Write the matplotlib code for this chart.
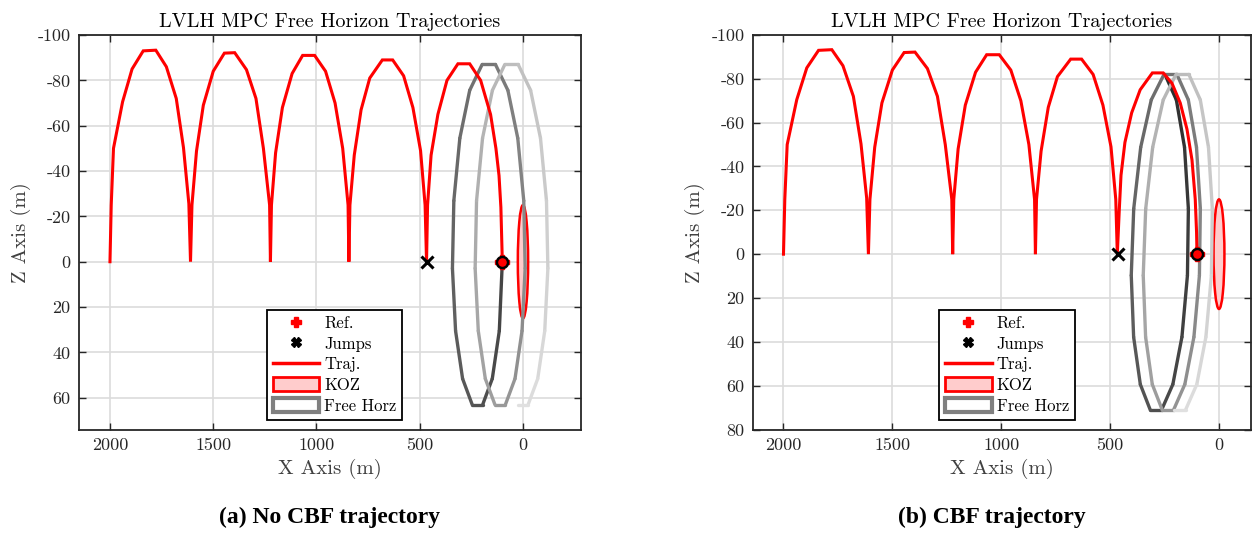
import numpy as np
import matplotlib
matplotlib.use('Agg')
import matplotlib.pyplot as plt
from matplotlib.collections import LineCollection
from matplotlib.patches import Ellipse, Patch
from matplotlib.lines import Line2D

plt.rcParams['font.family'] = ['cmr10', 'DejaVu Serif']
plt.rcParams['axes.unicode_minus'] = False
plt.rcParams['mathtext.fontset'] = 'cm'
plt.rcParams['axes.formatter.use_mathtext'] = True

# ---------------- data ----------------
# first four hops (common to both runs)
hops_x = [2000, 1994, 1983, 1939, 1893, 1839, 1778, 1727, 1679, 1644, 1618, 1610,
          1603, 1581, 1548, 1500, 1446, 1396, 1339, 1293, 1257, 1227, 1223,
          1218, 1198, 1165, 1118, 1067, 1009, 956, 910, 873, 847, 843,
          838, 817, 784, 742, 681, 631, 578, 533, 496, 474, 467]
hops_z = [0, -25, -50, -70.5, -85, -93, -93.3, -86, -72, -50.3, -25.6, 0,
          -25, -48.8, -69, -84, -92, -92.2, -84.7, -72, -50, -25, 0,
          -25, -48, -68, -83, -91, -91, -84, -70, -50, -25, 0,
          -25, -47, -67, -81, -89, -89, -82, -68, -49, -25, 0]

# last hop, no CBF
last_x_a = [467, 462, 445, 412, 368, 315, 258, 205, 157, 131, 116, 107, 100]
last_z_a = [0, -25, -47, -65, -80, -87.3, -87.3, -80, -65, -50, -38, -24, 0]
# last hop, CBF
last_x_b = [466, 458, 450, 432, 401, 362, 306, 256, 216, 178, 147, 124, 109, 103, 101]
last_z_b = [0, -20, -36, -51, -64.5, -75, -82.7, -82.7, -78, -69, -57, -43, -25, -10, 0]

# free-horizon drift, no CBF
free_x_a = [100, 114.6, 148.6, 195, 246, 292.4, 326.4, 341.6,
            334.8, 305.8, 258, 197.8, 133.2, 73, 25.2, -3.8,
            -10.6, 4.6, 38.6, 85, 136, 182.4, 216.4, 231.6,
            224.8, 195.8, 148, 87.8, 23.2, -37, -84.8, -113.8,
            -120.6, -105.4, -71.4, -25, 26]
free_z_a = [0, 30.5, 51.6, 63, 63, 51.6, 30.5, 2.9,
            -26.9, -54.5, -75.6, -87, -87, -75.6, -54.5, -26.9,
            2.9, 30.5, 51.6, 63, 63, 51.6, 30.5, 2.9,
            -26.9, -54.5, -75.6, -87, -87, -75.6, -54.5, -26.9,
            2.9, 30.5, 51.6, 63, 63]
# free-horizon drift, CBF
free_x_b = [248.2, 195.8, 158.3, 140.6,
            144.9, 170.2, 211.9, 263.3, 315.9, 361.3, 392, 402.9,
            391.6, 359.5, 311, 252.6, 193.2, 140.8, 103.3, 85.6,
            89.9, 115.2, 156.9, 208.3, 260.9, 306.3, 337, 347.9,
            336.6, 304.5, 256, 197.6, 138.2, 85.8, 48.3, 30.6,
            34.9, 60.2, 101.9, 153.3, 205.9]
free_z_b = [-82, -70.4, -48.8, -20.7,
            9.7, 37.8, 59.4, 71, 71, 59.4, 37.8, 9.7,
            -20.7, -48.8, -70.4, -82, -82, -70.4, -48.8, -20.7,
            9.7, 37.8, 59.4, 71, 71, 59.4, 37.8, 9.7,
            -20.7, -48.8, -70.4, -82, -82, -70.4, -48.8, -20.7,
            9.7, 37.8, 59.4, 71, 71]

ref_x, ref_z = [100], [0]
jump_x_a, jump_z_a = [465], [0]
jump_x_b, jump_z_b = [464], [0]
koz_center = (0, 0)
koz_radius = 25

xticks = [2000, 1500, 1000, 500, 0]
yticks_a = [-100, -80, -60, -40, -20, 0, 20, 40, 60]
yticks_b = [-100, -80, -60, -40, -20, 0, 20, 40, 60, 80]

title = 'LVLH MPC Free Horizon Trajectories'
captions = ['(a) No CBF trajectory', '(b) CBF trajectory']

# ---------------- figure ----------------
W, H = 1256, 533
fig = plt.figure(figsize=(W / 100, H / 100), dpi=100)

txt = '#262626'
top_px, bot_px = 35, 429.5
panels = [
    dict(rect=[79 / W, 1 - bot_px / H, (581 - 79) / W, (bot_px - top_px) / H],
         xlim=(2150, -281), ylim=(74, -100), yticks=yticks_a,
         last=(last_x_a, last_z_a), free=(free_x_a, free_z_a),
         jump=(jump_x_a, jump_z_a), g=(0.27, 0.88), cap_x=330 / W),
    dict(rect=[753 / W, 1 - bot_px / H, (1251 - 753) / W, (bot_px - top_px) / H],
         xlim=(2140, -147), ylim=(80, -100), yticks=yticks_b,
         last=(last_x_b, last_z_b), free=(free_x_b, free_z_b),
         jump=(jump_x_b, jump_z_b), g=(0.18, 0.88), cap_x=992 / W),
]

for i, p in enumerate(panels):
    ax = fig.add_axes(p['rect'])
    ax.set_xlim(*p['xlim'])
    ax.set_ylim(*p['ylim'])
    ax.set_axisbelow(True)
    ax.grid(True, color='#dcdcdc', lw=1.2)

    # keep-out zone
    koz = Ellipse(koz_center, 2 * koz_radius, 2 * koz_radius, facecolor=(1, 0.8, 0.8),
                  edgecolor='red', lw=1.8, zorder=2)
    ax.add_patch(koz)

    # free-horizon gradient path
    fx, fz = p['free']
    pts = np.column_stack([fx, fz]).reshape(-1, 1, 2)
    segs = np.concatenate([pts[:-1], pts[1:]], axis=1)
    g = np.linspace(p['g'][0], p['g'][1], len(segs))
    lc = LineCollection(segs, colors=[(v, v, v) for v in g], lw=2.4,
                        capstyle='round', joinstyle='round', zorder=3)
    ax.add_collection(lc)

    # trajectory
    tx = hops_x + p['last'][0][1:]
    tz = hops_z + p['last'][1][1:]
    ax.plot(tx, tz, color='red', lw=2.2, zorder=4, solid_joinstyle='miter')

    # markers
    ax.plot(ref_x, ref_z, marker='P', color='red', ms=10, mec='red', ls='none', zorder=5)
    ax.plot(tx[-1:], tz[-1:], marker='o', color='red', mec='black', mew=1.8, ms=8,
            ls='none', zorder=6)
    ax.plot(*p['jump'], marker='x', color='black', ms=9, mew=2.2, ls='none', zorder=6)

    ax.set_xticks(xticks)
    ax.set_xticklabels([str(v) for v in xticks])
    ax.set_yticks(p['yticks'])
    ax.set_yticklabels([str(v) for v in p['yticks']])
    ax.tick_params(direction='in', length=5, width=1.0, colors=txt, labelsize=13,
                   top=True, right=True, pad=6)
    for s in ax.spines.values():
        s.set_linewidth(1.3)
        s.set_color(txt)

    ax.set_title(title, fontsize=14.5, color='black', pad=6)
    ax.set_xlabel('X Axis (m)', fontsize=15, color='#404040', labelpad=4)
    ax.set_ylabel('Z Axis (m)', fontsize=15, color='#404040', labelpad=5)

    handles = [
        Line2D([], [], marker='P', color='red', ls='none', ms=7),
        Line2D([], [], marker='X', color='black', ls='none', ms=7),
        Line2D([], [], color='red', lw=2.5),
        Patch(facecolor=(1, 0.8, 0.8), edgecolor='red', lw=2),
        Patch(facecolor='white', edgecolor='0.5', lw=3),
    ]
    labels = ['Ref.', 'Jumps', 'Traj.', 'KOZ', 'Free Horz']
    leg = ax.legend(handles, labels, loc='lower left', bbox_to_anchor=(0.374, 0.025),
                    fontsize=12, frameon=True, fancybox=False, edgecolor='black',
                    framealpha=1, handlelength=2.8, handleheight=0.9,
                    labelspacing=0.3, borderpad=0.35, handletextpad=0.3,
                    borderaxespad=0)
    leg.get_frame().set_linewidth(1.3)
    leg.set_zorder(10)

    fig.text(p['cap_x'], 1 - 517 / H, captions[i], ha='center', va='center',
             fontsize=17, fontweight='bold', family='Liberation Serif')

fig.savefig('out.png', dpi=100)
